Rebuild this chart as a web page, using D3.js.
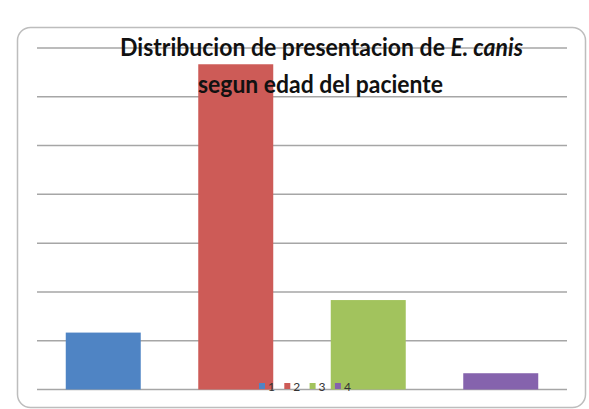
<!DOCTYPE html>
<html>
<head>
<meta charset="utf-8">
<script src="https://cdn.jsdelivr.net/npm/d3@7"></script>
<style>
  body { margin: 0; background: #fff; }
  svg { display: block; }
</style>
</head>
<body>
<script>
// categories (age groups) and counts
var categories = ["1", "2", "3", "4"];
var counts = [7, 40, 11, 2];
var colors = ["#4f84c4", "#cd5b57", "#a2c35d", "#8563ad"];
var yTicks = [0, 6, 12, 18, 24, 30, 36, 42];

var W = 589, H = 409;
var margin = {top: 48, right: 22, bottom: 19.5, left: 37};

var svg = d3.select("body").append("svg")
    .attr("width", W)
    .attr("height", H);

// chart frame
svg.append("rect")
    .attr("x", 17.5).attr("y", 27.5)
    .attr("width", 568).attr("height", 380)
    .attr("rx", 13).attr("ry", 13)
    .attr("fill", "#fff")
    .attr("stroke", "#bdbdbd")
    .attr("stroke-width", 1.5);

var x = d3.scaleBand()
    .domain(categories)
    .range([margin.left, W - margin.right])
    .paddingInner(0.434)
    .paddingOuter(0.217);

var y = d3.scaleLinear()
    .domain([0, 42])
    .range([H - margin.bottom, margin.top]);

// gridlines
svg.append("g")
    .selectAll("line")
    .data(yTicks)
    .enter().append("line")
    .attr("x1", margin.left)
    .attr("x2", W - margin.right)
    .attr("y1", function(d) { return y(d); })
    .attr("y2", function(d) { return y(d); })
    .attr("stroke", "#a6a6a6")
    .attr("stroke-width", 1.5);

// bars
svg.append("g")
    .selectAll("rect")
    .data(counts)
    .enter().append("rect")
    .attr("x", function(d, i) { return x(categories[i]); })
    .attr("width", x.bandwidth())
    .attr("y", function(d) { return y(d); })
    .attr("height", function(d) { return y(0) - y(d); })
    .attr("fill", function(d, i) { return colors[i]; });

// title
var title = svg.append("g")
    .attr("font-family", "Lato, 'Open Sans', sans-serif")
    .attr("font-weight", "bold")
    .attr("font-size", 24)
    .attr("fill", "#111");

var t1 = title.append("text")
    .attr("x", 120).attr("y", 55.5);
t1.append("tspan").text("Distribucion de presentacion de ");
t1.append("tspan").attr("font-style", "italic").text("E. canis");
t1.attr("textLength", 403).attr("lengthAdjust", "spacingAndGlyphs");

title.append("text")
    .attr("x", 198).attr("y", 92.5)
    .attr("textLength", 245).attr("lengthAdjust", "spacingAndGlyphs")
    .text("segun edad del paciente");

// legend
var legend = svg.append("g")
    .attr("font-family", "Lato, 'Open Sans', sans-serif")
    .attr("font-size", 12)
    .attr("fill", "#333");

var item = legend.selectAll("g")
    .data(categories)
    .enter().append("g")
    .attr("transform", function(d, i) { return "translate(" + (259 + i * 25.3) + ",383)"; });

item.append("rect")
    .attr("width", 6).attr("height", 6)
    .attr("fill", function(d, i) { return colors[i]; });

item.append("text")
    .attr("x", 9).attr("y", 7.5)
    .text(function(d) { return d; });
</script>
</body>
</html>
